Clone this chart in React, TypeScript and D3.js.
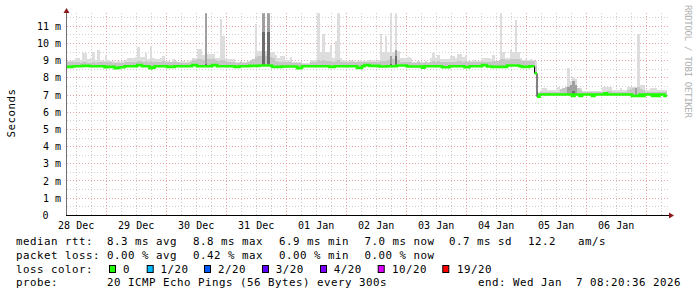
import React from 'react';
import * as d3 from 'd3';

const START = Date.UTC(2025, 11, 28, 8, 20, 36);
const END = Date.UTC(2026, 0, 7, 8, 20, 36);
const HOUR = 3600000;

// hourly median RTT (ms)
const median = [
  8.64,8.64,8.66,8.68,8.68,8.68,8.70,8.70,8.70,8.68,
  8.68,8.68,8.68,8.68,8.68,8.62,8.64,8.64,8.64,8.56,
  8.58,8.62,8.62,8.68,8.68,8.68,8.68,8.68,8.74,8.74,
  8.68,8.68,8.68,8.56,8.60,8.68,8.68,8.68,8.68,8.68,
  8.64,8.64,8.64,8.68,8.68,8.68,8.68,8.68,8.68,8.68,
  8.74,8.74,8.68,8.68,8.68,8.68,8.68,8.68,8.74,8.74,
  8.68,8.68,8.68,8.68,8.68,8.68,8.68,8.64,8.64,8.68,
  8.68,8.68,8.68,8.70,8.70,8.70,8.70,8.72,8.72,8.72,
  8.72,8.72,8.64,8.64,8.64,8.64,8.66,8.66,8.66,8.66,
  8.66,8.66,8.56,8.58,8.68,8.68,8.68,8.68,8.68,8.68,
  8.68,8.68,8.68,8.68,8.68,8.64,8.64,8.68,8.68,8.68,
  8.68,8.68,8.68,8.68,8.68,8.68,8.58,8.58,8.68,8.74,
  8.74,8.70,8.70,8.70,8.70,8.66,8.66,8.66,8.68,8.68,
  8.68,8.68,8.72,8.72,8.72,8.72,8.66,8.66,8.66,8.66,
  8.66,8.66,8.60,8.68,8.68,8.68,8.68,8.68,8.68,8.68,
  8.62,8.62,8.62,8.68,8.68,8.68,8.68,8.68,8.68,8.62,
  8.62,8.68,8.68,8.68,8.68,8.68,8.74,8.74,8.66,8.66,
  8.64,8.64,8.64,8.64,8.64,8.64,8.72,8.72,8.72,8.72,
  8.72,8.68,8.64,8.64,8.64,8.68,8.68,8.27,6.90,7.03,
  7.03,7.03,7.03,7.03,7.03,7.03,7.03,7.03,7.03,7.03,
  7.03,7.03,6.95,7.03,7.03,6.95,7.03,7.03,7.03,7.03,
  6.95,7.03,7.03,7.03,7.03,7.10,7.03,7.03,7.03,7.03,
  7.03,7.03,7.03,7.03,7.03,7.03,6.95,6.95,6.95,7.03,
  6.95,7.03,7.03,7.03,6.95,7.03,6.95,7.03,7.03,6.95,
];

// top of the light smoke (max ping, ms)
const smokeMax = [
  9.00,9.00,9.05,9.18,9.18,9.05,9.43,9.43,9.10,9.18,
  9.49,9.05,9.63,9.05,9.00,9.34,9.05,9.00,9.00,8.95,
  9.00,8.95,9.00,9.05,9.14,9.14,9.14,9.20,9.77,9.24,
  9.24,9.43,9.10,9.86,9.18,9.11,9.11,9.18,9.28,9.00,
  9.00,8.95,9.11,9.00,8.95,8.95,9.00,8.95,9.00,9.05,
  9.18,9.18,9.69,9.69,9.34,11.8,9.40,9.40,9.40,9.14,
  9.14,11.41,10.43,9.11,9.11,9.11,9.11,8.95,8.95,9.00,
  8.95,8.95,9.00,9.05,9.05,11.14,9.57,9.57,11.8,9.57,
  11.8,9.53,9.53,9.34,9.14,9.28,9.28,9.05,9.05,9.24,
  8.95,8.95,8.95,8.95,8.85,8.85,8.85,9.05,9.05,9.05,
  11.8,9.53,10.54,9.53,9.53,9.92,9.14,10.12,11.8,9.14,
  9.05,9.00,9.00,9.05,9.00,8.95,9.00,9.05,9.00,9.00,
  9.05,9.00,9.05,9.00,9.05,10.54,9.53,10.41,9.53,11.8,
  9.53,11.8,9.57,9.18,9.18,9.14,9.20,9.14,8.95,8.95,
  9.00,8.95,8.95,9.00,8.95,9.14,9.45,9.14,9.34,9.11,
  9.11,9.11,9.11,9.28,9.28,9.14,9.40,9.40,9.24,9.34,
  9.01,9.01,9.05,9.01,9.00,9.01,9.14,9.14,9.14,9.11,
  9.34,8.95,8.95,11.8,9.53,9.18,9.18,9.63,9.53,11.37,
  9.53,9.14,9.05,9.10,9.05,9.10,9.05,9.00,7.20,7.30,
  7.40,7.40,7.30,7.30,7.30,7.30,7.46,7.30,7.30,7.35,
  8.56,7.79,8.04,7.94,7.40,7.40,7.25,7.25,7.25,7.25,
  7.25,7.25,7.25,7.25,7.46,7.46,7.46,7.46,7.30,7.30,
  7.30,7.40,7.30,7.30,7.46,7.46,7.46,7.46,10.54,7.56,
  7.56,7.30,7.30,7.40,7.40,7.40,7.30,7.30,7.30,7.30,
];

// top of the medium smoke band (ms)
const smokeMid = [
  8.95,8.95,8.95,8.95,8.95,8.88,8.90,8.90,8.88,8.88,
  8.90,8.88,8.92,8.92,8.92,8.95,8.92,8.92,8.88,8.85,
  8.85,8.85,8.88,8.95,8.95,8.95,8.95,8.95,9.00,8.98,
  8.95,9.00,8.95,9.00,8.95,8.95,8.95,8.95,8.98,8.92,
  8.92,8.90,8.95,8.95,8.90,8.88,8.88,8.88,8.88,8.92,
  9.05,9.05,9.10,9.10,9.05,9.10,9.10,9.10,9.10,9.05,
  9.00,9.05,9.05,8.98,8.95,8.95,8.92,8.88,8.88,8.90,
  8.88,8.88,8.90,9.05,9.10,9.20,9.25,9.25,9.30,9.25,
  9.30,9.20,9.15,9.00,8.95,8.95,8.95,8.92,8.92,8.95,
  8.88,8.88,8.85,8.85,8.82,8.82,8.82,8.92,8.95,8.95,
  9.05,9.00,9.05,9.00,8.98,9.00,8.95,9.00,9.05,8.95,
  8.92,8.92,8.92,8.92,8.92,8.90,8.90,8.92,8.90,8.92,
  8.92,8.90,8.92,8.90,8.92,9.00,8.98,9.00,9.05,9.15,
  9.10,9.20,9.05,8.95,8.95,8.92,8.95,8.92,8.88,8.88,
  8.90,8.88,8.85,8.90,8.88,8.95,9.00,8.95,9.00,8.95,
  8.92,8.92,8.92,8.95,8.95,8.92,9.00,9.00,8.95,9.00,
  8.92,8.92,8.92,8.92,8.90,8.92,8.95,8.95,8.95,8.95,
  9.00,9.00,9.00,9.10,9.10,9.05,9.05,9.10,9.10,9.10,
  9.10,9.02,9.00,9.00,9.00,9.00,9.00,8.70,7.05,7.15,
  7.18,7.18,7.15,7.15,7.18,7.18,7.20,7.35,7.40,7.45,
  7.55,7.50,7.60,7.55,7.40,7.30,7.18,7.15,7.15,7.15,
  7.15,7.15,7.15,7.15,7.20,7.20,7.22,7.22,7.18,7.18,
  7.18,7.20,7.18,7.18,7.30,7.35,7.40,7.40,7.45,7.35,
  7.30,7.18,7.18,7.20,7.20,7.20,7.18,7.18,7.18,7.18,
];

// sparse darker smoke columns
const darkIdx = [55, 78, 80, 129, 131, 200, 201, 202, 203, 227];
const darkTop = [11.8, 11.8, 11.8, 9.30, 9.60, 7.45, 7.60, 7.79, 7.60, 7.40];
const darkerTop = [8.80, 10.70, 10.70, 8.80, 9.25, 6.90, 6.90, 7.25, 6.90, 6.90];

const yMajor = [0, 1, 2, 3, 4, 5, 6, 7, 8, 9, 10, 11];
const yMinor = [0.5, 1.5, 2.5, 3.5, 4.5, 5.5, 6.5, 7.5, 8.5, 9.5, 10.5, 11.5];

const rttStats = ['8.3 ms avg', '8.8 ms max', '6.9 ms min', '7.0 ms now', '0.7 ms sd', '12.2', 'am/s'];
const lossStats = ['0.00 % avg', '0.42 % max', '0.00 % min', '0.00 % now'];
const lossLabels = ['0', '1/20', '2/20', '3/20', '4/20', '10/20', '19/20'];
const lossColors = ['#20ff00', '#00b8ff', '#0059ff', '#5e00ff', '#7e00ff', '#dd00ff', '#ff0000'];
const probeText = '20 ICMP Echo Pings (56 Bytes) every 300s';
const endText = 'end: Wed Jan\u00a0\u00a07 08:20:36 2026';

// layout
const statX = [107, 193, 279, 364.6, 449, 528, 578];
const boxX = [109, 146.7, 204, 262, 320, 377.7, 442.3];
const boxTextX = [123, 160.4, 218, 275.7, 333.7, 392, 457];

const MONO = '"DejaVu Sans Mono", monospace';

export default function App() {
  const x = d3.scaleUtc().domain([new Date(START), new Date(END)]).range([67, 667]);
  const y = d3.scaleLinear().domain([0, 11.76]).range([215.3, 13.3]);
  const snap = (v: number) => Math.round(v - 0.5) + 0.5;
  const n = median.length;
  const pts = d3.range(n + 1).map((i) => ({ t: new Date(START + i * HOUR), i: Math.min(i, n - 1) }));

  const areaMax = d3.area<any>().curve(d3.curveStepAfter)
    .x((d) => x(d.t)).y0((d) => y(median[d.i])).y1((d) => y(smokeMax[d.i]));
  const areaMid = d3.area<any>().curve(d3.curveStepAfter)
    .x((d) => x(d.t)).y0((d) => y(median[d.i])).y1((d) => y(smokeMid[d.i]));
  const line = d3.line<any>().curve(d3.curveStepAfter).x((d) => x(d.t)).y((d) => y(median[d.i]));

  // green segments (break at big jumps)
  const groups: any[][] = [];
  let cur: any[] = [];
  for (let i = 0; i < n; i++) {
    if (i > 0 && Math.abs(median[i] - median[i - 1]) > 0.3) {
      cur.push({ t: new Date(START + i * HOUR), i: i - 1 });
      groups.push(cur);
      cur = [];
    }
    cur.push({ t: new Date(START + i * HOUR), i });
  }
  cur.push({ t: new Date(START + n * HOUR), i: n - 1 });
  groups.push(cur);

  const dayTicks = d3.utcDay.range(new Date(START), new Date(END));
  const sixTicks = d3.utcHour.every(6)!.range(new Date(START), new Date(END)).filter((d) => d.getUTCHours() !== 0);
  const labelDays = d3.utcDay.range(d3.utcDay.floor(new Date(START)), new Date(END))
    .map((d) => new Date(+d + 12 * HOUR)).filter((d) => +d > START && +d < END);
  const fmt = d3.utcFormat('%d %b');

  const gridMinor = '#cfcfcf';
  const gridMajor = '#e8a4a4';
  const x0 = 67, x1 = 668;
  const yTop = 13, yBot = snap(y(0));

  return (
    <svg width={697} height={297} style={{ position: 'absolute', left: 0, top: 0, background: '#fff' }}
      fontFamily={MONO}>
      <rect x={0} y={0} width={697} height={297} fill="#ffffff" />
      <defs>
        <clipPath id="plot"><rect x={67} y={13.3} width={600} height={202} /></clipPath>
      </defs>
      {/* minor grid */}
      <g stroke={gridMinor} strokeWidth={1} strokeDasharray="1,2" shapeRendering="crispEdges">
        {yMinor.map((v) => (
          <line key={'hm' + v} x1={x0} x2={x1} y1={snap(y(v))} y2={snap(y(v))} />
        ))}
        {sixTicks.map((d) => (
          <line key={'vm' + +d} x1={snap(x(d))} x2={snap(x(d))} y1={yTop} y2={yBot} />
        ))}
      </g>
      {/* major grid */}
      <g stroke={gridMajor} strokeWidth={1} strokeDasharray="1,2" shapeRendering="crispEdges">
        {yMajor.filter((v) => v > 0).map((v) => (
          <line key={'hM' + v} x1={x0} x2={x1} y1={snap(y(v))} y2={snap(y(v))} />
        ))}
        {dayTicks.map((d) => (
          <line key={'vM' + +d} x1={snap(x(d))} x2={snap(x(d))} y1={yTop} y2={yBot} />
        ))}
      </g>
      {/* smoke */}
      <g clipPath="url(#plot)" shapeRendering="crispEdges">
        <path d={areaMax(pts) || ''} fill="#dddddd" />
        <path d={areaMid(pts) || ''} fill="#c6c6c6" />
        {darkIdx.map((i, k) => {
          const xa = x(new Date(START + i * HOUR)), xb = x(new Date(START + (i + 1) * HOUR));
          return (
            <g key={'dk' + i}>
              <rect x={xa} width={xb - xa} y={y(darkTop[k])} height={Math.max(0, y(median[i]) - y(darkTop[k]))} fill="#a0a0a0" />
              <rect x={xa} width={xb - xa} y={y(darkerTop[k])} height={Math.max(0, y(median[i]) - y(darkerTop[k]))} fill="#6c6c6c" />
            </g>
          );
        })}
      </g>
      {/* median */}
      <g clipPath="url(#plot)">
        <path d={line(pts) || ''} fill="none" stroke="#000" strokeWidth={1} />
        {groups.map((g, k) => (
          <path key={'g' + k} d={line(g) || ''} fill="none" stroke="#20ff00" strokeWidth={2.6} />
        ))}
      </g>
      {/* axes */}
      <line x1={66.5} x2={66.5} y1={12} y2={215.5} stroke="#707070" strokeWidth={1} shapeRendering="crispEdges" />
      <line x1={66} x2={670} y1={yBot} y2={yBot} stroke="#000" strokeWidth={1} shapeRendering="crispEdges" />
      <path d="M63.5,13 L66.5,8 L69.5,13 Z" fill="#8b1a1a" />
      <path d="M669,212.5 L674,215.5 L669,218.5 Z" fill="#8b1a1a" />
      {/* y labels */}
      <g fontSize={10} fill="#000">
        {yMajor.map((v) => (
          <text key={'yl' + v} x={v === 0 ? 48.5 : 61} y={y(v) + 3.6} textAnchor="end">
            {v === 0 ? '0' : `${v} m`}
          </text>
        ))}
      </g>
      {/* x labels */}
      <g fontSize={10} fill="#000">
        {labelDays.map((d) => (
          <text key={'xl' + +d} x={x(d)} y={228.5} textAnchor="middle">{fmt(d)}</text>
        ))}
      </g>
      {/* y title */}
      <text transform="translate(14.7,113) rotate(-90)" fontSize={10.8} letterSpacing={0.5} textAnchor="middle" fill="#000">Seconds</text>
      {/* watermark */}
      <text transform="translate(684.5,5) rotate(90)" fontSize={9} letterSpacing={-0.3} fill="#b0b0b0">RRDTOOL / TOBI OETIKER</text>
      {/* legend */}
      <g fontSize={10.8} letterSpacing={0.5} fill="#000">
        <text x={16} y={245}>median rtt:</text>
        {rttStats.map((s, k) => (<text key={'r' + k} x={statX[k]} y={245}>{s}</text>))}
        <text x={16} y={258.8}>packet loss:</text>
        {lossStats.map((s, k) => (<text key={'l' + k} x={statX[k]} y={258.8}>{s}</text>))}
        <text x={16} y={272.5}>loss color:</text>
        {lossLabels.map((s, k) => (
          <g key={'c' + k}>
            <rect x={boxX[k] + 0.5} y={265.5} width={6} height={7} fill={lossColors[k]} stroke="#000" strokeWidth={1} />
            <text x={boxTextX[k]} y={272.5}>{s}</text>
          </g>
        ))}
        <text x={16} y={286.3}>probe:</text>
        <text x={107} y={286.3}>{probeText}</text>
        <text x={478} y={286.3}>{endText}</text>
      </g>
    </svg>
  );
}
